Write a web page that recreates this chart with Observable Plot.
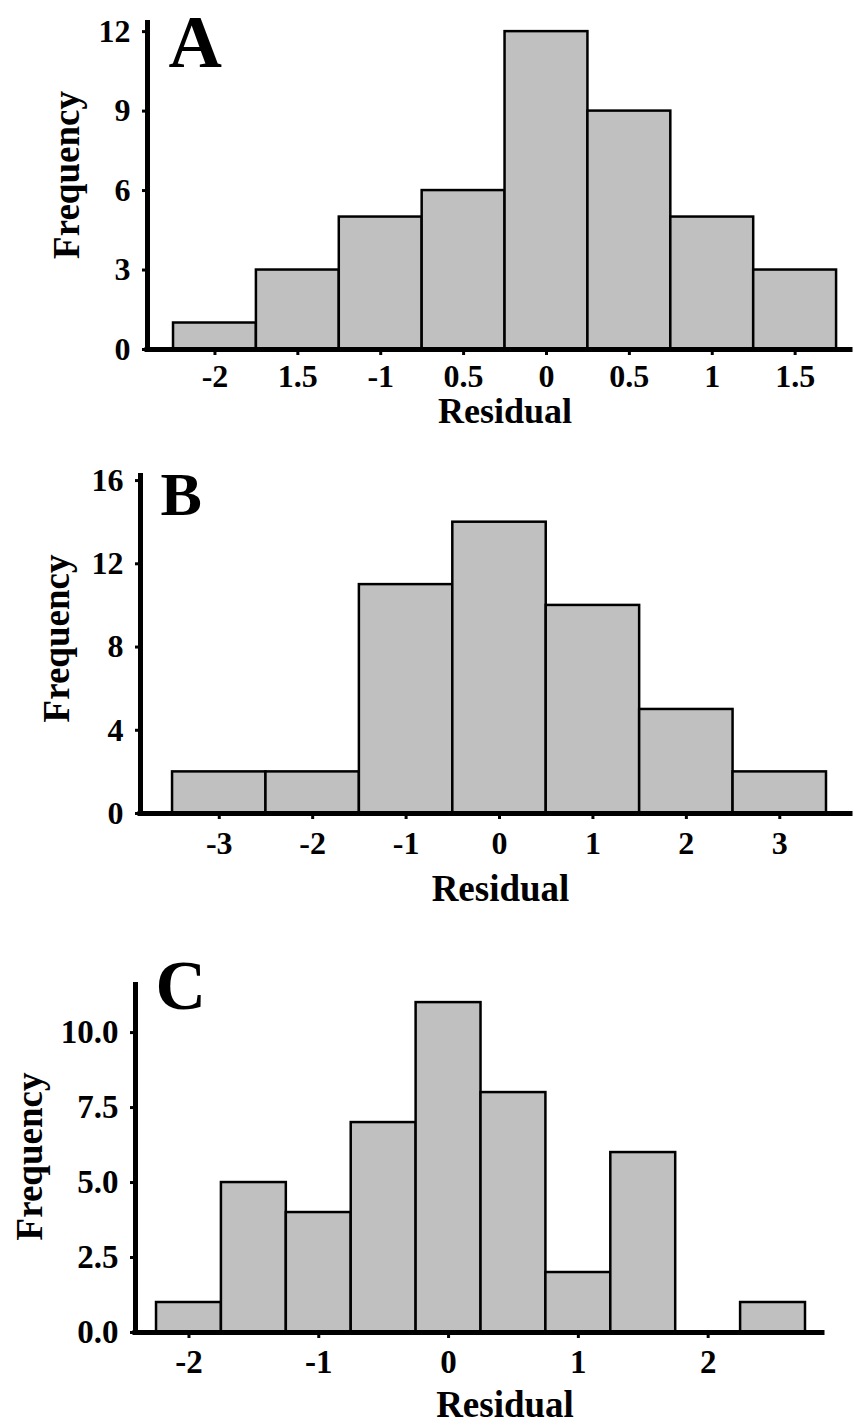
<!DOCTYPE html>
<html><head><meta charset="utf-8">
<script src="https://cdn.jsdelivr.net/npm/d3@7"></script>
<script src="https://cdn.jsdelivr.net/npm/@observablehq/plot@0.6"></script>
<style>
body{margin:0;background:#fff;}
#chart svg{display:block;}
</style>
</head><body><div id="chart"></div>
<script>
// Panel A
const binCentersA = [-2, -1.5, -1, -0.5, 0, 0.5, 1, 1.5];
const countsA = [1, 3, 5, 6, 12, 9, 5, 3];
const tickLabelsA = ["-2", "1.5", "-1", "0.5", "0", "0.5", "1", "1.5"];
const yTicksA = [0, 3, 6, 9, 12];

// Panel B
const binCentersB = [-3, -2, -1, 0, 1, 2, 3];
const countsB = [2, 2, 11, 14, 10, 5, 2];
const tickLabelsB = ["-3", "-2", "-1", "0", "1", "2", "3"];
const yTicksB = [0, 4, 8, 12, 16];

// Panel C
const binCentersC = [-2, -1.5, -1, -0.5, 0, 0.5, 1, 1.5, 2, 2.5];
const countsC = [1, 5, 4, 7, 11, 8, 2, 6, 0, 1];
const xTicksC = [-2, -1, 0, 1, 2];
const tickLabelsC = ["-2", "-1", "0", "1", "2"];
const yTicksC = [0, 2.5, 5, 7.5, 10];

const FONT = '"Liberation Serif", "Times New Roman", serif';

function panel(cfg) {
  const data = cfg.centers
    .map((c, i) => ({x1: c - cfg.binWidth / 2, x2: c + cfg.binWidth / 2, n: cfg.counts[i]}))
    .filter(d => d.n > 0);
  return Plot.plot({
    width: 854,
    height: cfg.height,
    marginTop: cfg.mt, marginBottom: cfg.mb, marginLeft: cfg.ml, marginRight: cfg.mr,
    x: {domain: cfg.xDomain},
    y: {domain: cfg.yDomain},
    style: {fontFamily: FONT, fontSize: cfg.tickFont + "px", fontWeight: "bold", color: "black", background: "white", overflow: "visible"},
    marks: [
      Plot.rect(data, {x1: "x1", x2: "x2", y1: 0, y2: "n", fill: "#c0c0c0", stroke: "black", strokeWidth: 2.5}),
      Plot.axisX({ticks: cfg.xTicks, tickFormat: d => cfg.xLabels[cfg.xTicks.indexOf(d)], tickSize: 6, tickPadding: cfg.xPad, strokeWidth: 3, label: null}),
      Plot.axisY({ticks: cfg.yTicks, tickFormat: cfg.yFormat, tickSize: 5, tickPadding: 12, strokeWidth: 3, label: null}),
      Plot.ruleY([0], {strokeWidth: 5, strokeLinecap: "square"}),
      Plot.ruleX([cfg.xDomain[0]], {strokeWidth: 5}),
      Plot.text([cfg.letter], {frameAnchor: "top-left", textAnchor: "start", lineAnchor: "middle", dx: cfg.letterDx, dy: cfg.letterDy, fontSize: cfg.letterSize}),
      Plot.text(["Residual"], {frameAnchor: "bottom", textAnchor: "middle", lineAnchor: "middle", dx: cfg.resDx, dy: cfg.resDy, fontSize: cfg.resFont}),
      Plot.text(["Frequency"], {frameAnchor: "left", textAnchor: "middle", lineAnchor: "middle", rotate: -90, dx: cfg.freqDx, dy: cfg.freqDy, fontSize: 37})
    ]
  });
}

const root = document.getElementById("chart");

root.appendChild(panel({
  centers: binCentersA, counts: countsA, binWidth: 0.5,
  height: 430, mt: 20, mb: 81, ml: 147, mr: 4,
  xDomain: [-2.407, 1.834], yDomain: [0, 12.42],
  xTicks: binCentersA, xLabels: tickLabelsA, xPad: 9,
  yTicks: yTicksA, yFormat: d => String(d), tickFont: 32,
  letter: "A", letterSize: 74, letterDx: 21, letterDy: 23,
  resFont: 36, resDx: 6, resDy: 62, freqDx: -80, freqDy: -10
}));

root.appendChild(panel({
  centers: binCentersB, counts: countsB, binWidth: 1,
  height: 500, mt: 43, mb: 117, ml: 140, mr: 4,
  xDomain: [-3.843, 3.757], yDomain: [0, 16.34],
  xTicks: binCentersB, xLabels: tickLabelsB, xPad: 12,
  yTicks: yTicksB, yFormat: d => String(d), tickFont: 32,
  letter: "B", letterSize: 62, letterDx: 20, letterDy: 22,
  resFont: 37, resDx: 5, resDy: 76, freqDx: -83, freqDy: -5
}));

root.appendChild(panel({
  centers: binCentersC, counts: countsC, binWidth: 0.5,
  height: 495, mt: 52, mb: 93, ml: 135, mr: 32,
  xDomain: [-2.412, 2.881], yDomain: [0, 11.67],
  xTicks: xTicksC, xLabels: tickLabelsC, xPad: 11,
  yTicks: yTicksC, yFormat: d3.format(".1f"), tickFont: 33,
  letter: "C", letterSize: 70, letterDx: 20, letterDy: 4,
  resFont: 37, resDx: 26, resDy: 73, freqDx: -105, freqDy: -1
}));
</script>
</body></html>
